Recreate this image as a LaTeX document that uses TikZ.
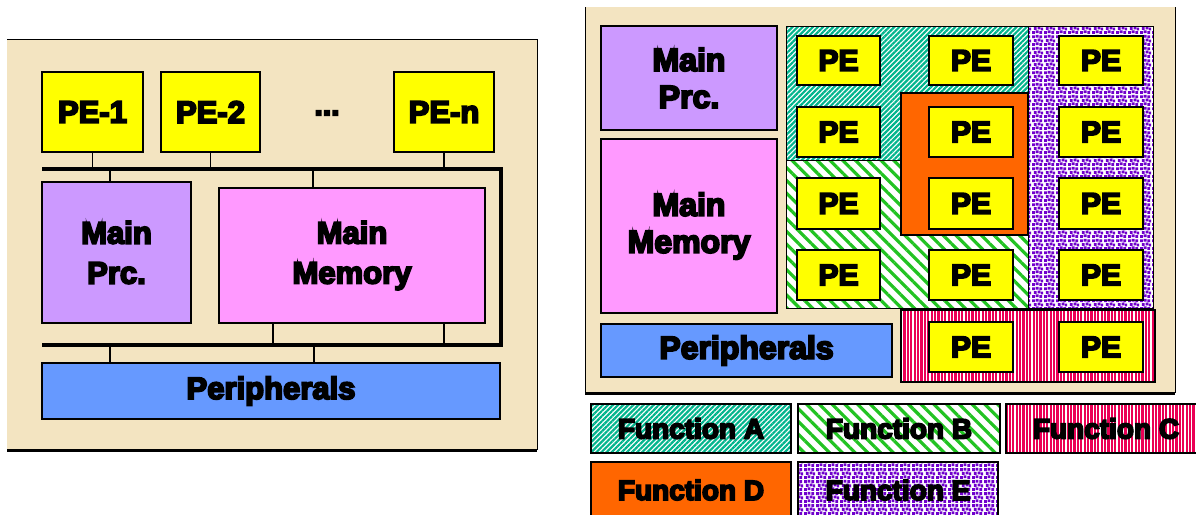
\documentclass[tikz,border=0pt]{standalone}
\usepackage{fontspec}
\newfontfamily\heavy{Liberation Sans Bold}[FakeBold=6]
\usetikzlibrary{patterns,patterns.meta}
\definecolor{bgbeige}{RGB}{243,228,193}
\definecolor{peY}{RGB}{255,255,0}
\definecolor{prcC}{RGB}{204,153,255}
\definecolor{memC}{RGB}{255,153,255}
\definecolor{perC}{RGB}{102,153,255}
\definecolor{orD}{RGB}{255,102,0}
\definecolor{tealA}{RGB}{0,180,140}
\definecolor{greenB}{RGB}{34,195,34}
\definecolor{redC}{RGB}{235,0,85}
\definecolor{purpE}{RGB}{112,0,204}
\pgfdeclarepatternformonly{purpdots}{\pgfpointorigin}{\pgfpoint{12pt}{12pt}}{\pgfpoint{12pt}{12pt}}{%
  \pgfpathrectangle{\pgfpoint{0pt}{0pt}}{\pgfpoint{3pt}{3pt}}%
  \pgfpathrectangle{\pgfpoint{4pt}{1pt}}{\pgfpoint{3pt}{3pt}}%
  \pgfpathrectangle{\pgfpoint{8pt}{0pt}}{\pgfpoint{3pt}{3pt}}%
  \pgfpathrectangle{\pgfpoint{2pt}{4.5pt}}{\pgfpoint{3pt}{3pt}}%
  \pgfpathrectangle{\pgfpoint{6pt}{5pt}}{\pgfpoint{3pt}{3pt}}%
  \pgfpathrectangle{\pgfpoint{9.5pt}{4pt}}{\pgfpoint{2.5pt}{3pt}}%
  \pgfpathrectangle{\pgfpoint{0pt}{8.5pt}}{\pgfpoint{3pt}{3pt}}%
  \pgfpathrectangle{\pgfpoint{4pt}{9pt}}{\pgfpoint{3pt}{3pt}}%
  \pgfpathrectangle{\pgfpoint{8pt}{8.5pt}}{\pgfpoint{3pt}{3pt}}%
  \pgfusepath{fill}}
\newcommand{\rnode}[7]{\node[#6, minimum width={(#4)-(#2)}, minimum height={(#5)-(#3)}] (#1) at (#2,#3) {#7};}
\tikzset{
  blk/.style={draw=black, line width=1.3pt, inner sep=0pt, outer sep=0pt, anchor=north west, align=center,
    font=\heavy\fontsize{31}{40}\selectfont},
  pebox/.style={blk, fill=peY},
  pesmall/.style={pebox, font=\heavy\fontsize{30}{36}\selectfont},
  prcbox/.style={blk, fill=prcC},
  membox/.style={blk, fill=memC},
  perbox/.style={blk, fill=perC},
  bigtxt/.style={font=\heavy\fontsize{32}{37}\selectfont},
  bus/.style={line width=3.2pt},
  wire/.style={line width=1.5pt},
  panel/.style={fill=bgbeige},
  frame/.style={line width=1pt},
  shadowline/.style={line width=3pt},
  region/.style={draw=black, line width=1pt, preaction={fill=white}},
  fillA/.style={pattern={Lines[angle=45,distance=3.6pt,line width=2.2pt]}, pattern color=tealA},
  fillB/.style={pattern={Lines[angle=-45,distance=9pt,line width=3.2pt]}, pattern color=greenB},
  fillC/.style={pattern={Lines[angle=90,distance=3.4pt,line width=2.2pt]}, pattern color=redC},
  fillE/.style={pattern=purpdots, pattern color=purpE},
  legend/.style={draw=black, line width=1.5pt, inner sep=0pt, outer sep=0pt, anchor=north west,
    font=\heavy\fontsize{28}{32}\selectfont, preaction={fill=white}},
}
\begin{document}
\begin{tikzpicture}[x=1pt,y=-1pt]
\useasboundingbox (0,0) rectangle (1196,514);
% ---------- left panel ----------
\fill[panel] (7,39) rectangle (537,450);
\draw[frame] (7,39) -- (537,39) -- (537,450);
\draw[shadowline] (7,450) -- (537,450);
\rnode{pe1}{42}{72}{143}{152}{pebox}{PE-1}
\rnode{pe2}{161}{72}{260}{152}{pebox}{PE-2}
\rnode{pen}{394}{72}{494}{152}{pebox}{PE-n}
\node[font=\heavy\fontsize{30}{36}\selectfont, inner sep=0pt] (dots) at (327,113) {...};
\rnode{prc}{42}{182}{191}{323}{prcbox}{Main\\Prc.}
\rnode{mem}{219}{188}{485}{323}{membox}{Main\\Memory}
\rnode{per}{42}{363}{500}{419}{perbox}{Peripherals}
\coordinate (bUL) at (42,169);
\coordinate (bR) at (501,345);
\coordinate (bLL) at (42,345);
\draw[bus] (bUL) -| (bR) -- (bLL);
\draw[wire] (pe1.south) -- (pe1.south |- bUL);
\draw[wire] (pe2.south) -- (pe2.south |- bUL);
\draw[wire] (pen.south) -- (pen.south |- bUL);
\coordinate (d1) at (110,169);
\coordinate (d2) at (313,169);
\coordinate (d3) at (273,345);
\coordinate (d4) at (444,345);
\coordinate (d5) at (110,345);
\coordinate (d6) at (314,345);
\draw[wire] (d1) -- (d1 |- prc.north);
\draw[wire] (d2) -- (d2 |- mem.north);
\draw[wire] (d3) -- (d3 |- mem.south);
\draw[wire] (d4) -- (d4 |- mem.south);
\draw[wire] (d5) -- (d5 |- per.north);
\draw[wire] (d6) -- (d6 |- per.north);
% ---------- right panel ----------
\fill[panel] (585,7) rectangle (1175,393);
\draw[frame] (585,7) -- (585,393);
\draw[frame] (1175,7) -- (1175,393);
\draw[shadowline] (585,393) -- (1175,393);
\rnode{prcR}{601}{26}{777}{130}{prcbox, bigtxt}{Main\\Prc.}
\rnode{memR}{601}{139}{777}{313}{membox, bigtxt}{Main\\Memory}
\rnode{perR}{601}{324}{892}{377}{perbox, bigtxt}{Peripherals}
\draw[region, fillA] (786,26) rectangle (1028,160);
\draw[region, fillB] (786,160) rectangle (1028,308);
\draw[region, fillE] (1028,26) rectangle (1153,308);
\draw[draw=black, line width=1.6pt, fill=orD] (901,93) rectangle (1028,235);
\draw[region, fillC, line width=1.6pt] (901,310) rectangle (1155,382);
% PE grid
\rnode{p11}{797}{36}{880}{85}{pesmall}{PE}
\rnode{p12}{929}{36}{1013}{85}{pesmall}{PE}
\rnode{p13}{1059}{36}{1143}{85}{pesmall}{PE}
\rnode{p21}{797}{107}{880}{157}{pesmall}{PE}
\rnode{p22}{929}{107}{1013}{157}{pesmall}{PE}
\rnode{p23}{1059}{107}{1143}{157}{pesmall}{PE}
\rnode{p31}{797}{178}{880}{229}{pesmall}{PE}
\rnode{p32}{929}{178}{1013}{229}{pesmall}{PE}
\rnode{p33}{1059}{178}{1143}{229}{pesmall}{PE}
\rnode{p41}{797}{250}{880}{300}{pesmall}{PE}
\rnode{p42}{929}{250}{1013}{300}{pesmall}{PE}
\rnode{p43}{1059}{250}{1143}{300}{pesmall}{PE}
\rnode{p52}{929}{322}{1013}{372}{pesmall}{PE}
\rnode{p53}{1059}{322}{1143}{372}{pesmall}{PE}
% ---------- legend ----------
\rnode{fA}{591}{404}{791}{453}{legend, fillA}{Function A}
\rnode{fB}{798}{404}{1000}{453}{legend, fillB}{Function B}
\node[legend, fillC, minimum width=200, minimum height=49] (fC) at (1006,404) {Function C};
\rnode{fD}{591}{462}{791}{518}{legend, fill=orD, preaction={}}{Function D}
\rnode{fE}{798}{462}{998}{518}{legend, fillE}{Function E}
\end{tikzpicture}
\end{document}
